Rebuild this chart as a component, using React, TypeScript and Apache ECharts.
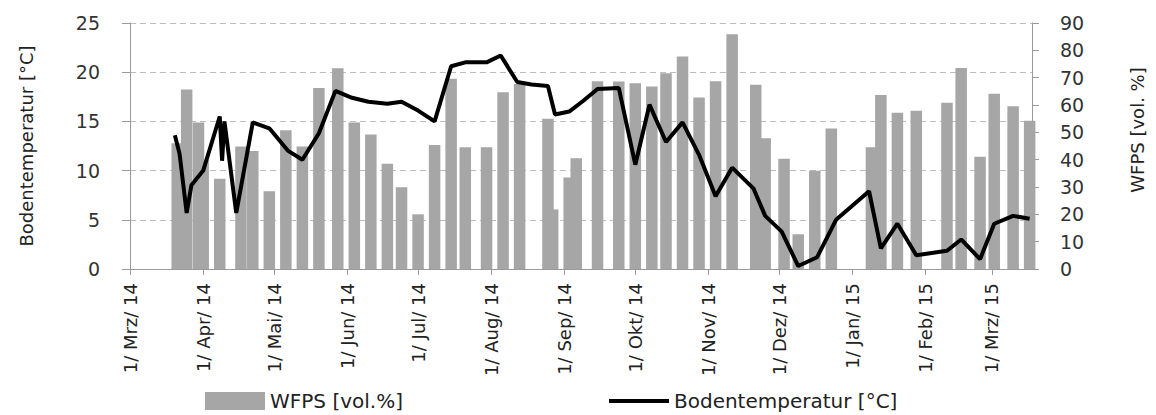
import { useEffect, useRef } from 'react';
import * as echarts from 'echarts';

const monthNames = ['Jan', 'Feb', 'Mrz', 'Apr', 'Mai', 'Jun', 'Jul', 'Aug', 'Sep', 'Okt', 'Nov', 'Dez'];

const tickDates = [
  '2014-03-01', '2014-04-01', '2014-05-01', '2014-06-01', '2014-07-01', '2014-08-01', '2014-09-01',
  '2014-10-01', '2014-11-01', '2014-12-01', '2015-01-01', '2015-02-01', '2015-03-01',
];

const wfpsDates = [
  '2014-03-21', '2014-03-25', '2014-03-30', '2014-04-01', '2014-04-08', '2014-04-17', '2014-04-22',
  '2014-04-29', '2014-05-06', '2014-05-13', '2014-05-20', '2014-05-28', '2014-06-04', '2014-06-11',
  '2014-06-18', '2014-06-24', '2014-07-01', '2014-07-08', '2014-07-15', '2014-07-21', '2014-07-30',
  '2014-08-06', '2014-08-13', '2014-08-25', '2014-08-27', '2014-09-03', '2014-09-06', '2014-09-15',
  '2014-09-24', '2014-10-01', '2014-10-08', '2014-10-14', '2014-10-21', '2014-10-28', '2014-11-04',
  '2014-11-11', '2014-11-21', '2014-11-25', '2014-12-03', '2014-12-09', '2014-12-16', '2014-12-23',
  '2015-01-09', '2015-01-13', '2015-01-20', '2015-01-28', '2015-02-10', '2015-02-16', '2015-02-24',
  '2015-03-02', '2015-03-10', '2015-03-17',
];
const wfpsValues = [
  46.0, 65.7, 53.6, 39.9, 33.0, 44.8, 43.2,
  28.4, 50.8, 44.8, 66.2, 73.4, 53.6, 49.2,
  38.5, 29.9, 20.0, 45.4, 69.6, 44.5, 44.5,
  64.7, 67.7, 55.0, 21.8, 33.5, 40.5, 68.7,
  68.6, 68.0, 66.8, 71.6, 77.7, 62.7, 68.7,
  85.9, 67.4, 47.8, 40.3, 12.7, 35.9, 51.4,
  44.5, 63.7, 57.2, 57.9, 60.8, 73.5, 41.1,
  64.1, 59.5, 54.2,
];

const tempDates = [
  '2014-03-20', '2014-03-22', '2014-03-25', '2014-03-27', '2014-04-01', '2014-04-08', '2014-04-09',
  '2014-04-10', '2014-04-15', '2014-04-22', '2014-04-29', '2014-05-07', '2014-05-13', '2014-05-20',
  '2014-05-27', '2014-06-03', '2014-06-10', '2014-06-18', '2014-06-24', '2014-07-01', '2014-07-08',
  '2014-07-15', '2014-07-21', '2014-07-30', '2014-08-05', '2014-08-12', '2014-08-18', '2014-08-25',
  '2014-08-28', '2014-09-03', '2014-09-09', '2014-09-15', '2014-09-24', '2014-10-01', '2014-10-07',
  '2014-10-14', '2014-10-21', '2014-10-28', '2014-11-04', '2014-11-11', '2014-11-20', '2014-11-25',
  '2014-12-02', '2014-12-09', '2014-12-17', '2014-12-25', '2015-01-08', '2015-01-13', '2015-01-20',
  '2015-01-28', '2015-02-10', '2015-02-16', '2015-02-24', '2015-03-02', '2015-03-10', '2015-03-17',
];
const tempValues = [
  13.6, 11.7, 5.7, 8.5, 10.0, 15.5, 11.0,
  15.0, 5.7, 14.9, 14.3, 12.0, 11.1, 13.8,
  18.1, 17.4, 17.0, 16.8, 17.0, 16.1, 15.0,
  20.6, 21.0, 21.0, 21.7, 19.0, 18.75, 18.6,
  15.7, 16.0, 17.1, 18.3, 18.4, 10.6, 16.7,
  12.9, 14.9, 11.6, 7.4, 10.3, 8.2, 5.4,
  3.8, 0.3, 1.2, 5.0, 7.9, 2.1, 4.6,
  1.4, 1.85, 3.0, 1.0, 4.6, 5.4, 5.1,
];

const axisStart = '2014-03-01';
const axisEnd = '2015-03-18';

const DAY = 86400000;
function utc(s: string): number {
  const [y, m, d] = s.split('-').map(Number);
  return Date.UTC(y, m - 1, d);
}
// day number counted from the axis start
function dayOf(s: string): number {
  return Math.round((utc(s) - utc(axisStart)) / DAY);
}

const FONT = 'DejaVu Sans';

export default function App() {
  const ref = useRef<HTMLDivElement>(null);
  useEffect(() => {
    if (!ref.current) return;
    const chart = echarts.init(ref.current, null, { renderer: 'svg' });
    const tickVals = tickDates.map(dayOf);
    const option: any = {
      animation: false,
      grid: { left: 130, right: 124, top: 23, bottom: 146, containLabel: false },
      legend: {
        left: 200,
        top: 386,
        itemWidth: 60,
        itemHeight: 18,
        itemGap: 206,
        symbolKeepAspect: true,
        textStyle: { fontFamily: FONT, fontSize: 20, color: '#222' },
        data: [
          { name: 'WFPS [vol.%]', icon: 'rect' },
          { name: 'Bodentemperatur [°C]', icon: 'path://M0 0H60V4H0Z' },
        ],
      },
      xAxis: {
        type: 'value',
        min: 0,
        max: dayOf(axisEnd),
        axisLine: { show: true, onZero: false, lineStyle: { color: '#9a9a9a', width: 1 } },
        axisTick: { show: true, customValues: tickVals, length: 6, lineStyle: { color: '#9a9a9a' } },
        axisLabel: {
          customValues: tickVals,
          rotate: 90,
          margin: 14,
          fontFamily: FONT,
          fontSize: 18,
          color: '#222',
          formatter: (v: number) => {
            const d = new Date(utc(axisStart) + Math.round(v) * DAY);
            return `1/ ${monthNames[d.getUTCMonth()]}/ ${String(d.getUTCFullYear()).slice(2)}`;
          },
        },
        splitLine: { show: false },
      },
      yAxis: [
        {
          type: 'value',
          position: 'left',
          min: 0,
          max: 25,
          interval: 5,
          name: 'Bodentemperatur [°C]',
          nameLocation: 'middle',
          nameRotate: 90,
          nameGap: 95,
          nameTextStyle: { fontFamily: FONT, fontSize: 18, color: '#222' },
          axisLine: { show: true, lineStyle: { color: '#9a9a9a' } },
          axisTick: { show: true, length: 8, lineStyle: { color: '#9a9a9a' } },
          axisLabel: { margin: 30, fontFamily: FONT, fontSize: 19, color: '#333' },
          splitLine: { show: true, lineStyle: { color: '#bdbdbd', type: [6, 4], width: 1 } },
        },
        {
          type: 'value',
          position: 'right',
          min: 0,
          max: 90,
          interval: 10,
          name: 'WFPS [vol. %]',
          nameLocation: 'middle',
          nameRotate: 90,
          nameGap: 96,
          nameTextStyle: { fontFamily: FONT, fontSize: 18, color: '#222', padding: [0, 0, 0, 32] },
          axisLine: { show: true, lineStyle: { color: '#9a9a9a' } },
          axisTick: { show: true, length: 7, lineStyle: { color: '#9a9a9a' } },
          axisLabel: { margin: 28, fontFamily: FONT, fontSize: 19, color: '#333' },
          splitLine: { show: false },
        },
      ],
      series: [
        {
          type: 'bar',
          name: 'WFPS [vol.%]',
          yAxisIndex: 1,
          barWidth: 11.5,
          itemStyle: { color: '#a6a6a6' },
          data: wfpsDates.map((d, i) => [dayOf(d), wfpsValues[i]]),
          z: 2,
        },
        {
          type: 'line',
          name: 'Bodentemperatur [°C]',
          yAxisIndex: 0,
          symbol: 'none',
          lineStyle: { color: '#000', width: 4 },
          itemStyle: { color: '#000' },
          data: tempDates.map((d, i) => [dayOf(d), tempValues[i]]),
          z: 3,
        },
      ],
    };
    chart.setOption(option);
    return () => chart.dispose();
  }, []);
  return (
    <div
      ref={ref}
      style={{ position: 'fixed', left: 0, top: 0, width: 1156, height: 415, background: '#fff' }}
    />
  );
}
